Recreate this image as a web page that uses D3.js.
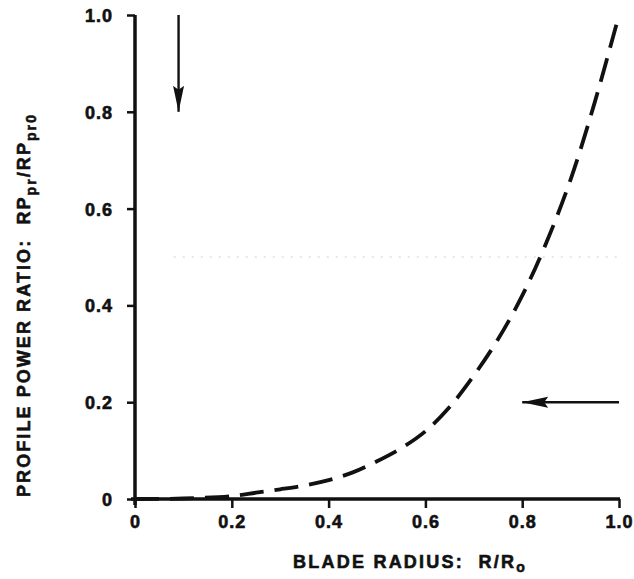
<!DOCTYPE html>
<html>
<head>
<meta charset="utf-8">
<script src="https://cdn.jsdelivr.net/npm/d3@7"></script>
<style>
  html, body { margin: 0; padding: 0; background: #fff; }
  svg { display: block; }
  text { font-family: "Liberation Sans", Arial, Helvetica, sans-serif; font-weight: bold; fill: #111; stroke: #111; stroke-width: 0.6px; }
</style>
</head>
<body>
<svg id="chart" width="634" height="579"></svg>
<script>
// Blade radius stations and the profile power ratio read at each one
const radius = [0, 0.1, 0.2, 0.25, 0.3, 0.35, 0.4, 0.45, 0.5, 0.55, 0.6, 0.65, 0.7, 0.75, 0.8, 0.85, 0.9, 0.95, 1.0];
const powerRatio = [0, 0.001, 0.006, 0.013, 0.02, 0.028, 0.039, 0.055, 0.078, 0.105, 0.14, 0.19, 0.255, 0.33, 0.42, 0.53, 0.66, 0.82, 1.0];

// Tick values and their printed labels
const xTicks = [0, 0.2, 0.4, 0.6, 0.8, 1.0];
const xTickLabels = ["0", "0.2", "0.4", "0.6", "0.8", "1.0"];
const yTicks = [0, 0.2, 0.4, 0.6, 0.8, 1.0];
const yTickLabels = ["0", "0.2", "0.4", "0.6", "0.8", "1.0"];

// Indicator arrows, given in data units
const downArrow = { x: 0.09, from: 1.0, to: 0.8 };
const leftArrow = { y: 0.2, from: 1.0, to: 0.8 };

const svg = d3.select("#chart");
const x = d3.scaleLinear().domain([0, 1]).range([135, 619]);
const y = d3.scaleLinear().domain([0, 1]).range([499, 15]);

// faint dotted line at mid-height
svg.append("line")
  .attr("x1", x(0.08)).attr("x2", x(1.0))
  .attr("y1", y(0.5)).attr("y2", y(0.5))
  .attr("stroke", "#cfcfcf").attr("stroke-width", 1)
  .attr("stroke-dasharray", "2 7");

// Axes
const xAxis = d3.axisBottom(x).tickValues(xTicks)
  .tickFormat((d, i) => xTickLabels[i]).tickSize(9).tickPadding(7);
const yAxis = d3.axisLeft(y).tickValues(yTicks)
  .tickFormat((d, i) => yTickLabels[i]).tickSize(8).tickPadding(14);

const gx = svg.append("g").attr("transform", `translate(0,${y(0)})`).call(xAxis);
const gy = svg.append("g").attr("transform", `translate(${x(0)},0)`).call(yAxis);

[gx, gy].forEach(g => {
  g.select(".domain").remove();
  g.selectAll(".tick line").attr("stroke", "#111").attr("stroke-width", 2.5);
  g.selectAll(".tick text")
    .attr("fill", "#111")
    .style("font-size", "18px")
    .style("letter-spacing", "1px")
    .attr("font-family", null);
});
gy.selectAll(".tick text").attr("dy", "0.36em");

// axis lines drawn heavy
svg.append("line")
  .attr("x1", x(0)).attr("x2", x(0))
  .attr("y1", y(1.0)).attr("y2", y(0) + 6)
  .attr("stroke", "#111").attr("stroke-width", 3.5);
svg.append("line")
  .attr("x1", x(0) - 4).attr("x2", x(1.0) + 1)
  .attr("y1", y(0)).attr("y2", y(0))
  .attr("stroke", "#111").attr("stroke-width", 3.5);

// Profile power curve
const line = d3.line()
  .x((d, i) => x(radius[i]))
  .y(d => y(d))
  .curve(d3.curveCatmullRom.alpha(0.5));

svg.append("path")
  .datum(powerRatio)
  .attr("d", line)
  .attr("fill", "none")
  .attr("stroke", "#111")
  .attr("stroke-width", 3.8)
  .attr("stroke-dasharray", "24 11");

// Arrow markers
const defs = svg.append("defs");
defs.append("marker")
  .attr("id", "head")
  .attr("viewBox", "0 0 26 12")
  .attr("refX", 26).attr("refY", 6)
  .attr("markerWidth", 26).attr("markerHeight", 12)
  .attr("markerUnits", "userSpaceOnUse")
  .attr("orient", "auto")
  .append("path")
  .attr("d", "M0,0.5 L26,6 L0,11.5 L4,6 Z")
  .attr("fill", "#111");

svg.append("line")
  .attr("x1", x(downArrow.x)).attr("x2", x(downArrow.x))
  .attr("y1", y(downArrow.from)).attr("y2", y(downArrow.to))
  .attr("stroke", "#111").attr("stroke-width", 2.4)
  .attr("marker-end", "url(#head)");

svg.append("line")
  .attr("x1", x(leftArrow.from)).attr("x2", x(leftArrow.to))
  .attr("y1", y(leftArrow.y)).attr("y2", y(leftArrow.y))
  .attr("stroke", "#111").attr("stroke-width", 2.4)
  .attr("marker-end", "url(#head)");

// Stretch a title to a set length by adjusting its letter spacing
function fitSpacing(sel, target) {
  const chars = sel.text().length;
  const natural = sel.node().getComputedTextLength();
  sel.style("letter-spacing", ((target - natural) / chars) + "px");
}

// X axis title
const xt = svg.append("text")
  .attr("x", 410).attr("y", 568)
  .attr("text-anchor", "middle")
  .style("font-size", "18px");
xt.append("tspan").text("BLADE RADIUS:\u00a0\u00a0R/R");
xt.append("tspan").attr("dy", 4).style("font-size", "14px").text("o");
fitSpacing(xt, 234);

// Y axis title
const yt = svg.append("text")
  .attr("transform", "translate(30,305) rotate(-90)")
  .attr("text-anchor", "middle")
  .style("font-size", "18px");
yt.append("tspan").text("PROFILE POWER RATIO:\u00a0\u00a0RP");
yt.append("tspan").attr("dy", 6).style("font-size", "14px").text("pr");
yt.append("tspan").attr("dy", -6).text("/RP");
yt.append("tspan").attr("dy", 6).style("font-size", "14px").text("pr0");
fitSpacing(yt, 384);
</script>
</body>
</html>
